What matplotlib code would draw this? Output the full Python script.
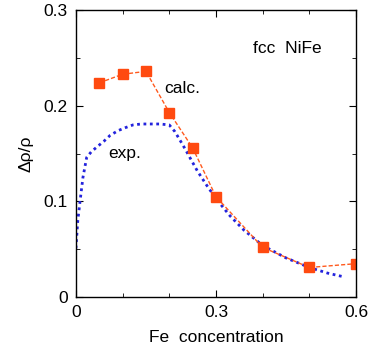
import matplotlib
matplotlib.use("Agg")
import matplotlib.pyplot as plt
from matplotlib.ticker import MultipleLocator

plt.rcParams['font.family'] = ['Liberation Sans', 'DejaVu Sans']

# calculated values
calc_x = [0.05, 0.10, 0.15, 0.20, 0.25, 0.30, 0.40, 0.50, 0.60]
calc_y = [0.224, 0.233, 0.236, 0.193, 0.156, 0.105, 0.052, 0.031, 0.035]

# experimental curve
exp_x = [0.0, 0.004, 0.009, 0.015, 0.023, 0.033, 0.045, 0.06, 0.073, 0.09, 0.105,
         0.122, 0.14, 0.159, 0.18, 0.2, 0.212, 0.223, 0.235, 0.244, 0.26, 0.28,
         0.3, 0.33, 0.36, 0.4, 0.45, 0.5, 0.54, 0.576]
exp_y = [0.051, 0.08, 0.101, 0.125, 0.146, 0.152, 0.157, 0.163, 0.169, 0.174, 0.177,
         0.180, 0.181, 0.181, 0.181, 0.180, 0.173, 0.164, 0.154, 0.146, 0.132, 0.117,
         0.103, 0.085, 0.07, 0.054, 0.041, 0.031, 0.025, 0.021]

fig = plt.figure(figsize=(3.74, 3.5), dpi=100)
ax = fig.add_axes([0.203, 0.151, 0.749, 0.82])

ax.plot(exp_x, exp_y, linestyle=(0, (1, 1.3)), color='#2323dd', linewidth=2.0)
ax.plot(calc_x, calc_y, linestyle='--', dashes=(3, 1.5), color='#ff5a1e', linewidth=1,
        marker='s', markersize=6.5, markerfacecolor='#ff4a10', markeredgecolor='#ff4a10')

ax.text(0.452, 0.260, 'fcc  NiFe', ha='center', va='center', fontsize=12.5)
ax.text(0.227, 0.218, 'calc.', ha='center', va='center', fontsize=12.5)
ax.text(0.105, 0.150, 'exp.', ha='center', va='center', fontsize=12.5)

ax.set_xlim(0, 0.6)
ax.set_ylim(0, 0.3)
ax.xaxis.set_minor_locator(MultipleLocator(0.1))
ax.yaxis.set_minor_locator(MultipleLocator(0.05))
ax.set_xticks([0, 0.3, 0.6])
ax.set_xticklabels(['0', '0.3', '0.6'])
ax.set_yticks([0, 0.1, 0.2, 0.3])
ax.set_yticklabels(['0', '0.1', '0.2', '0.3'])
ax.tick_params(which='both', direction='in', top=True, right=True, labelsize=12.5, pad=6)
ax.tick_params(which='major', length=5)
ax.tick_params(which='minor', length=3)
for s in ax.spines.values():
    s.set_linewidth(1)

ax.set_xlabel('Fe  concentration', fontsize=12.5, labelpad=7)
ax.set_ylabel('Δρ/ρ', fontsize=12.5, labelpad=7)

fig.savefig('out.png', dpi=100)
